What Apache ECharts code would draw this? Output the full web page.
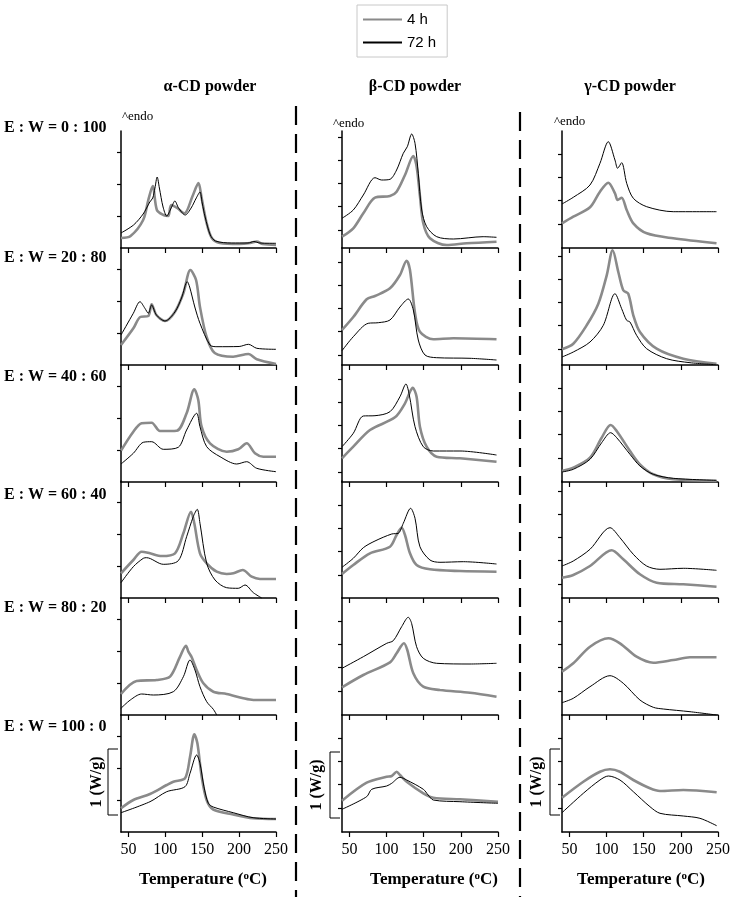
<!DOCTYPE html>
<html><head><meta charset="utf-8">
<script src="https://cdn.jsdelivr.net/npm/echarts@6/dist/echarts.min.js"></script>
<style>html,body{margin:0;padding:0;background:#fff}#c{width:738px;height:897px}</style>
</head><body><div id="c"></div>
<script>
// ---------------- data ----------------
const columnTitles = ['α-CD powder', 'β-CD powder', 'γ-CD powder'];
const ratioLabels = ['E : W = 0 : 100', 'E : W = 20 : 80', 'E : W = 40 : 60', 'E : W = 60 : 40', 'E : W = 80 : 20', 'E : W = 100 : 0'];
const xTicks = [50, 100, 150, 200, 250];
const seriesNames = ['4 h', '72 h'];
const xTitle = 'Temperature';
const scaleLabel = '1 (W/g)';
// heat flow in arbitrary units above each panel's baseline (66 units = 1 W/g), endo up
// alpha-CD
const a1_4h = [[40,10],[53,12],[70,28],[77,48],[83,62],[88.6,38],[97.6,33],[104,32],[108,43],[116,40],[126,34.7],[137,52],[145,65],[149,51],[156,25],[163,10],[174,5],[200,4],[215,5],[224,6.5],[232,4],[250,3]];
const a1_72h = [[40,15],[57,23],[70,34],[79,46],[83,50],[86,60],[89,71],[92,60],[97,41],[102,32],[108,40],[113,47],[118,40],[127,33],[135,40],[142,50],[147,56],[150,45],[154,31],[161,13],[168,7],[190,5],[212,5],[220,6.5],[228,5],[250,4.7]];
const a2_4h = [[40,20],[57,37],[66,48],[77,49],[81.5,60.7],[88,50],[99.6,44],[113,53],[124.5,71.7],[134,95],[141.7,85],[147,58],[156,28],[167,12],[192,8.3],[212.6,11],[224,5.7],[250,1]];
const a2_72h = [[40,30],[56.7,51.7],[65.7,63.3],[72.4,56.7],[77,51.7],[81.5,60],[88,50],[99.6,44],[113,53],[122,67],[129.8,83.3],[133,78],[140,58],[147,41.7],[160.6,20],[170,18.3],[200,18.5],[212.6,20.7],[224,16.7],[250,15.7]];
const a3_4h = [[40,31.3],[56.7,50.3],[68,58.7],[81.5,59.3],[92.8,51],[115.4,51.3],[128.9,68.7],[139.3,92.7],[144.7,82],[149.2,55.3],[160.6,38.7],[183.1,30.3],[198.9,32.7],[210.3,38.7],[221.5,28.7],[232.8,25.3],[250,25.3]];
const a3_72h = [[40,18],[56.7,28.7],[70.2,39.7],[81.5,40.3],[97.3,32.7],[117.6,34.7],[128.9,52],[142.5,68.7],[147,55.3],[156.1,35.3],[174.2,25.3],[196.8,18],[210.3,20.3],[223.9,13.7],[250,10.3]];
const a4_4h = [[40,24.7],[56.7,38],[68,46.3],[79.3,44.7],[95.1,42],[113.2,44.7],[124.5,64.7],[134.9,86.3],[139.3,74.7],[147,44.7],[156.1,34.7],[169.7,26.3],[183.1,24],[192.3,24.7],[204.9,28],[217.1,21.3],[228.3,19],[250,19]];
const a4_72h = [[40,15.3],[56.7,31.3],[70.2,39.7],[74.7,40.3],[97.3,33.7],[117.6,37.3],[128.9,61.3],[137.9,81.3],[143.3,88.7],[147,74.7],[156.1,34.7],[167.4,18],[183.1,10.3],[198.9,9.7],[208,13],[219.3,5.3],[230.6,0]];
const a5_4h = [[40,21],[61.1,34],[88.3,35],[106.4,38.3],[120,58.3],[128,69.3],[131.3,63.3],[135.8,57.7],[142.5,45],[151.6,31.7],[165.1,23.3],[183.1,21],[205.8,16.7],[219.3,15],[250,15]];
const a5_72h = [[40,6.7],[52.6,15],[68,21],[83.8,20],[110.9,23.3],[124.5,38.3],[133.5,55],[140.2,45],[147,28.3],[156.1,13.3],[165.1,5.7],[169.7,0]];
const a6_4h = [[40,23.7],[56.7,32],[79.3,38],[101.9,47],[110.9,50.3],[126.7,53.7],[133.5,75],[139.4,97.7],[143.5,88.7],[149.3,55.3],[156,32],[165,22.5],[192,17.5],[219,13.7],[250,13]];
const a6_72h = [[40,19.3],[79.3,30.3],[101.9,40.3],[126.7,45.3],[133.5,58.7],[142.5,77],[147,68.7],[152.4,45.3],[158.3,28.7],[165,25],[192,19.3],[219,14.3],[250,13]];
// beta-CD
const b1_4h = [[40,11.3],[55.2,19.7],[68.7,34.7],[84.4,50.3],[104.6,52],[113.5,56.3],[124.8,73],[136,92],[140.5,81.3],[145,51.3],[149.4,24.7],[158.4,9.7],[180.9,3],[207.8,4.7],[248,6.3]];
const b1_72h = [[40,29.7],[55.2,38],[68.7,53],[84.4,70.3],[93.4,68],[104.6,68.7],[113.5,78],[122.5,94.7],[127.9,101.3],[133.8,114],[138.3,104.7],[142.7,74.7],[147.3,38],[154,21.3],[167.5,11.3],[189.8,9],[230,11.3],[248,10.7]];
const b2_4h = [[40,35],[55.2,48],[73.2,65.7],[84.4,69],[104.6,76.7],[118,90],[127,104.3],[131.5,95],[138.3,51.7],[144.9,33.3],[162.9,25.7],[189.8,26.7],[248,25.7]];
const b2_72h = [[40,14.3],[55.2,28.3],[75.3,41.7],[88.9,42.3],[104.6,45],[118,58],[129.2,66],[136,55],[142.7,25],[151.7,10],[167.4,7.3],[212.3,6.7],[248,5]];
const b3_4h = [[40,23.7],[55.2,35.3],[77.7,52],[111.3,64.7],[124.8,78.7],[131.5,90.3],[135.1,94.3],[140.4,85.3],[144.9,55.3],[153.9,35.3],[167.4,25.3],[198.8,23.7],[248,20.3]];
const b3_72h = [[40,35.3],[55.2,48.7],[68.7,66],[84.4,66.3],[104.6,70.3],[118,85.3],[126.1,98],[130.6,87],[138.3,55.3],[149.4,35.3],[162.9,31],[198.8,31],[248,27]];
const b4_4h = [[40,24],[55.2,33],[77.7,44.7],[104.6,51.3],[113.5,63],[120.3,70.3],[124.8,63],[131.5,44.7],[140.4,33],[158.4,28.7],[198.8,27],[248,26.3]];
const b4_72h = [[40,30.7],[55.2,39.7],[68.7,50.3],[84.4,57],[106.9,64],[115.8,64.7],[122.5,74.7],[132.4,89.7],[138.3,79.7],[144.9,51.3],[158.4,38],[171.9,35.7],[203.3,36.3],[248,34]];
const b5_4h = [[40,27.7],[68.7,40],[104.6,52.7],[113.5,61.7],[123.4,71.7],[127.9,65],[136,41.7],[149.4,28.3],[171.9,25],[212.3,22.3],[248,18.3]];
const b5_72h = [[40,46.7],[68.7,58.3],[100.2,71.7],[109,74.3],[120.3,88.3],[129.2,97.7],[133.7,91.7],[140.4,68.3],[149.4,56.7],[167.4,51.7],[212.3,51],[248,51.7]];
const b6_4h = [[40,31.3],[73.2,49.3],[100.1,55.3],[106.9,56],[113.6,60.3],[118,57],[127.1,50.3],[149.5,38.7],[162.9,34.3],[198.8,32.7],[250,30.3]];
const b6_72h = [[40,22.7],[73.2,35.3],[80,42.7],[100.1,46],[106.9,48.7],[118,54.7],[127.1,52],[149.5,42.7],[156,37],[162.9,32],[198.8,30.3],[250,28.7]];
// gamma-CD
const c1_4h = [[40,24.7],[55.2,31.3],[77.7,40.7],[91.1,56.3],[102.3,65.3],[111.3,54.7],[114.9,48],[120.3,50.3],[127.1,38],[136,24.7],[154,14.7],[189.8,9.7],[248,4.7]];
const c1_72h = [[40,44],[55.2,50.7],[77.7,63],[91.1,84.7],[102.3,106.3],[111.3,88],[114.9,79.7],[120.3,85.3],[127.1,64.7],[136,49.7],[154,41.3],[189.8,36.3],[248,36.3]];
const c2_4h = [[40,15.7],[55.2,21.3],[73.2,39.7],[88.9,61.3],[100.2,89.7],[108.2,114.7],[115.8,93],[122.5,74.7],[129.2,71.3],[136,49.7],[144.9,33],[167.4,16.3],[203.3,6.3],[248,1.3]];
const c2_72h = [[40,8],[55.2,13],[77.7,23],[95.6,39.7],[111.3,71.3],[120.3,56.3],[127,44.7],[131.5,43],[140.4,29.7],[153.9,16.3],[180.9,6.3],[212.3,2.3],[248,0.3]];
const c3_4h = [[40,11],[55.2,14.3],[77.7,24.3],[93.4,44.3],[105.5,57],[113.6,51],[131.5,31],[144.9,17.7],[162.9,7.7],[189.8,2.7],[248,1]];
const c3_72h = [[40,10],[55.2,12.7],[77.7,22.7],[93.4,39.3],[105.5,49.3],[113.6,44.3],[131.5,27.7],[144.9,16],[162.9,7.7],[189.8,3.7],[248,1.7]];
const c4_4h = [[40,20.3],[55.2,23],[77.7,32],[106.9,47.7],[122.5,38.7],[144.9,23.7],[167.4,15.3],[203.3,13.7],[248,11.3]];
const c4_72h = [[40,32],[55.2,37],[77.7,48.7],[104.6,70.3],[118,60.3],[136,43.7],[153.9,32],[171.9,28.7],[203.3,29.7],[248,27.7]];
const c5_4h = [[40,43.3],[55.2,51.7],[77.7,68.3],[102.4,76.7],[118,71.7],[140.4,58.3],[162.9,52.3],[189.8,55],[212.3,57.7],[248,57.7]];
const c5_72h = [[40,12.3],[55.2,16.7],[77.7,28.3],[104.6,39.3],[122.5,31.7],[144.9,15],[162.9,7.7],[176.4,6],[212.3,3.3],[248,0]];
const c6_4h = [[40,34.3],[68.7,50.3],[91.1,60.3],[104.6,62.7],[118,60.3],[136,52],[158.4,43.7],[171.9,41],[203.3,42],[248.2,39.7]];
const c6_72h = [[40,19.3],[68.7,38.7],[91.1,52],[102.4,56],[118,52],[136,40.3],[158.4,25.3],[171.9,18.7],[203.3,16],[225.7,13.7],[248.2,6.3]];

const panelData = [
  [[a1_4h,a1_72h],[a2_4h,a2_72h],[a3_4h,a3_72h],[a4_4h,a4_72h],[a5_4h,a5_72h],[a6_4h,a6_72h]],
  [[b1_4h,b1_72h],[b2_4h,b2_72h],[b3_4h,b3_72h],[b4_4h,b4_72h],[b5_4h,b5_72h],[b6_4h,b6_72h]],
  [[c1_4h,c1_72h],[c2_4h,c2_72h],[c3_4h,c3_72h],[c4_4h,c4_72h],[c5_4h,c5_72h],[c6_4h,c6_72h]]
];

// ---------------- layout ----------------
const colLeft = [121, 342, 562];
const colW = [155, 156, 156];
const rowBottom = [248, 365, 482, 598, 715, 832];
const panelH = 117;
const yTickStart = [[32,32,32,32,32,32],[18,10,10,23,24,24],[24,16,24,14,24,24]];
const yTickStep = [32, 23.3, 23.3];
const SERIF = "'Liberation Serif','Times New Roman',serif";
const SANS = "'Liberation Sans',Arial,sans-serif";
const GRAY = '#8a8a8a';

const grids = [], xAxes = [], yAxes = [], series = [];
let gi = 0;
for (let c = 0; c < 3; c++) {
  for (let r = 0; r < 6; r++) {
    const isBottom = r === 5;
    grids.push({left: colLeft[c], width: colW[c], top: rowBottom[r] - panelH, height: panelH});
    xAxes.push({
      gridIndex: gi, type: 'value', min: 40, max: 250,
      axisLine: {show: true, onZero: false, lineStyle: {color: '#000', width: 1.5}},
      axisTick: {show: true, customValues: xTicks, length: 5, lineStyle: {color: '#000', width: 1.2}},
      axisLabel: {show: isBottom, customValues: xTicks, margin: 10, color: '#000', fontFamily: SERIF, fontSize: 16},
      splitLine: {show: false}
    });
    const ticks = [];
    for (let v = yTickStart[c][r]; v < panelH - 1; v += yTickStep[c]) ticks.push(+v.toFixed(1));
    yAxes.push({
      gridIndex: gi, type: 'value', min: 0, max: panelH,
      axisLine: {show: true, onZero: false, lineStyle: {color: '#000', width: 1.5}},
      axisTick: {show: true, customValues: ticks, length: 4, lineStyle: {color: '#000', width: 1.2}},
      axisLabel: {show: false},
      splitLine: {show: false}
    });
    const [d4, d72] = panelData[c][r];
    series.push({type: 'line', name: seriesNames[0], xAxisIndex: gi, yAxisIndex: gi, data: d4,
      symbol: 'none', smooth: 0.3, lineStyle: {color: GRAY, width: 2.6}, itemStyle: {color: GRAY}, z: 2});
    series.push({type: 'line', name: seriesNames[1], xAxisIndex: gi, yAxisIndex: gi, data: d72,
      symbol: 'none', smooth: 0.3, lineStyle: {color: '#000', width: 1}, itemStyle: {color: '#000'}, z: 3});
    gi++;
  }
}

// ---------------- annotations ----------------
const graphics = [];
const titleX = [210, 415, 630];
columnTitles.forEach((t, i) => graphics.push({type: 'text', x: titleX[i], y: 87,
  style: {text: t, font: `bold 16px ${SERIF}`, fill: '#000', align: 'center', verticalAlign: 'middle'}}));
const rowLabelY = [128, 258, 377, 495, 608, 727];
ratioLabels.forEach((t, i) => graphics.push({type: 'text', x: 4, y: rowLabelY[i],
  style: {text: t, font: `bold 16px ${SERIF}`, fill: '#000', align: 'left', verticalAlign: 'middle'}}));
const endoPos = [[122, 117], [333, 124], [554, 122]];
endoPos.forEach(p => graphics.push({type: 'text', x: p[0], y: p[1],
  style: {text: '^endo', font: `13px ${SERIF}`, fill: '#000', align: 'left', verticalAlign: 'middle'}}));
const xTitleX = [203, 434, 641];
xTitleX.forEach(x => graphics.push({type: 'text', x: x, y: 880,
  style: {text: `{a|${xTitle} (}{s|o}{a|C)}`, align: 'center', verticalAlign: 'middle',
    rich: {a: {font: `bold 17px ${SERIF}`, fill: '#000', color: '#000'},
           s: {font: `bold 11px ${SERIF}`, fill: '#000', color: '#000', verticalAlign: 'top', padding: [0, 0, 8, 0]}}}}));
// scale brackets (1 W/g)
const bracket = [[108, 749, 815, 97], [330, 752, 818, 317], [550, 749, 815, 537]];
bracket.forEach(b => {
  graphics.push({type: 'polyline', shape: {points: [[b[0] + 10, b[1]], [b[0], b[1]], [b[0], b[2]], [b[0] + 10, b[2]]]},
    style: {stroke: '#000', lineWidth: 1, fill: null}});
  graphics.push({type: 'text', x: b[3], y: (b[1] + b[2]) / 2, rotation: Math.PI / 2,
    style: {text: scaleLabel, font: `bold 16px ${SERIF}`, fill: '#000', align: 'center', verticalAlign: 'middle'}});
});
// dashed separators
[[296, 106], [520, 112]].forEach(s => graphics.push({type: 'line', shape: {x1: s[0], y1: s[1], x2: s[0], y2: 897},
  style: {stroke: '#000', lineWidth: 2.2, lineDash: [19, 9]}}));

const chart = echarts.init(document.getElementById('c'));
chart.setOption({
  animation: false,
  backgroundColor: '#fff',
  legend: {
    data: seriesNames, left: 357, top: 5, orient: 'vertical',
    itemWidth: 39, itemHeight: 12, itemGap: 8,
    padding: [7, 11, 7, 5],
    borderColor: '#c8c8c8', borderWidth: 1,
    itemStyle: {opacity: 0},
    textStyle: {fontFamily: SANS, fontSize: 15, color: '#000'}
  },
  grid: grids, xAxis: xAxes, yAxis: yAxes, series: series,
  graphic: graphics
});
</script></body></html>
